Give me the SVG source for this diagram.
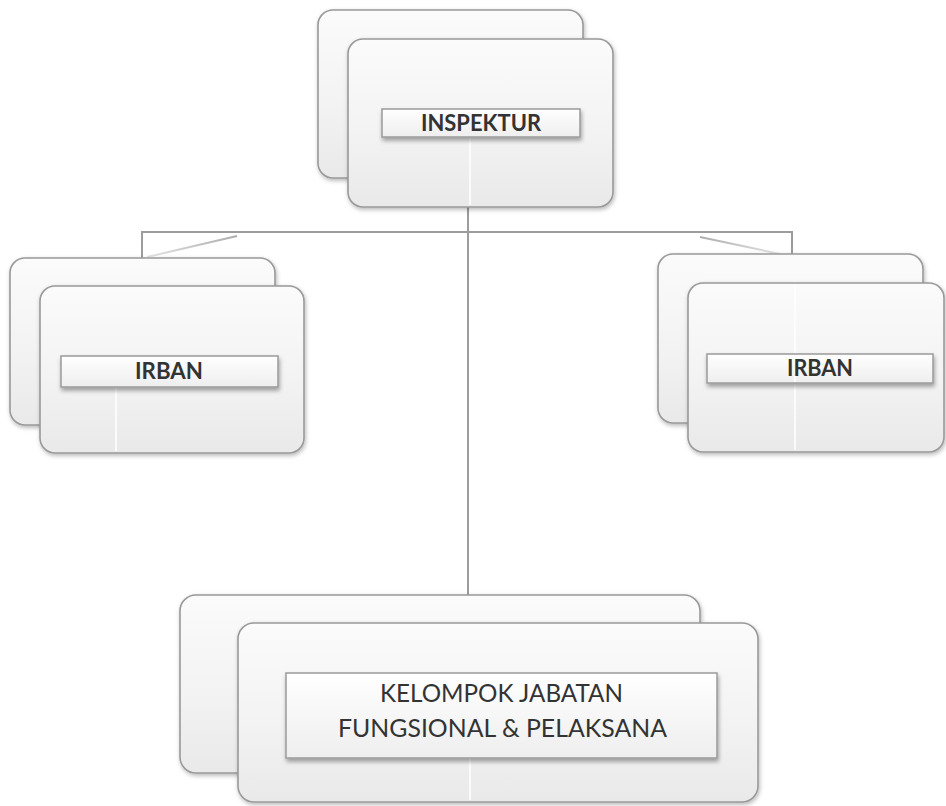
<svg xmlns="http://www.w3.org/2000/svg" width="946" height="806" viewBox="0 0 946 806">
  <defs>
    <linearGradient id="cardFill" x1="0" y1="0" x2="0" y2="1">
      <stop offset="0" stop-color="#fbfbfb"/>
      <stop offset="0.55" stop-color="#f3f3f3"/>
      <stop offset="1" stop-color="#e9e9e9"/>
    </linearGradient>
    <linearGradient id="barFill" x1="0" y1="0" x2="0" y2="1">
      <stop offset="0" stop-color="#ffffff"/>
      <stop offset="1" stop-color="#eeeeee"/>
    </linearGradient>
    <linearGradient id="fadeL" x1="0" y1="0" x2="1" y2="0">
      <stop offset="0" stop-color="#8a8a8a"/>
      <stop offset="1" stop-color="#d8d8d8"/>
    </linearGradient>
    <linearGradient id="fadeR" x1="0" y1="0" x2="1" y2="0">
      <stop offset="0" stop-color="#d8d8d8"/>
      <stop offset="1" stop-color="#8a8a8a"/>
    </linearGradient>
    <filter id="soft" x="-10%" y="-10%" width="125%" height="130%">
      <feDropShadow dx="1" dy="2" stdDeviation="2" flood-color="#000" flood-opacity="0.28"/>
    </filter>
    <filter id="barShadow" x="-5%" y="-20%" width="112%" height="160%">
      <feDropShadow dx="1" dy="3" stdDeviation="2" flood-color="#000" flood-opacity="0.35"/>
    </filter>
  </defs>
  <style>
    .card { fill: url(#cardFill); stroke: #999; stroke-width: 1.6; filter: url(#soft); }
    .bar { fill: url(#barFill); stroke: #9a9a9a; stroke-width: 1.5; filter: url(#barShadow); }
    .line { stroke: #9c9c9c; stroke-width: 2; fill: none; }
    .gleam { stroke: #ffffff; stroke-width: 2; opacity: 0.8; }
    .label { font-family: Lato, "Open Sans", "Liberation Sans", sans-serif; fill: #333; text-anchor: middle; }
    .bold { font-weight: bold; font-size: 22px; }
    .plain { font-size: 25px; }
  </style>

  <rect width="946" height="806" fill="#ffffff"/>

  <!-- connectors -->
  <g id="connectors">
    <polyline class="line" points="142,258 142,232 792,232 792,254"/>
    <line class="line" x1="468" y1="207" x2="468" y2="595"/>
    <line x1="147" y1="257" x2="237" y2="236" stroke="url(#fadeR)" stroke-width="2" opacity="0.7"/>
    <line x1="700" y1="237" x2="780" y2="254" stroke="url(#fadeL)" stroke-width="2" opacity="0.7"/>
  </g>

  <!-- top node -->
  <g id="inspektur">
    <rect class="card" x="318" y="10" width="265" height="168" rx="15"/>
    <rect class="card" x="348" y="39" width="265" height="168" rx="15"/>
    <line class="gleam" x1="470" y1="137" x2="470" y2="205"/>
    <rect class="bar" x="382" y="109" width="198" height="28"/>
    <text class="label bold" x="481" y="131" textLength="120" lengthAdjust="spacingAndGlyphs">INSPEKTUR</text>
  </g>

  <!-- left node -->
  <g id="irban-left">
    <rect class="card" x="10" y="258" width="265" height="167" rx="15"/>
    <rect class="card" x="40" y="286" width="264" height="167" rx="15"/>
    <line class="gleam" x1="116" y1="387" x2="116" y2="451"/>
    <rect class="bar" x="61" y="356" width="217" height="31"/>
    <text class="label bold" x="169" y="379" textLength="68" lengthAdjust="spacingAndGlyphs">IRBAN</text>
  </g>

  <!-- right node -->
  <g id="irban-right">
    <rect class="card" x="658" y="254" width="265" height="169" rx="15"/>
    <rect class="card" x="688" y="283" width="256" height="169" rx="15"/>
    <line class="gleam" x1="795" y1="285" x2="795" y2="450"/>
    <rect class="bar" x="707" y="354" width="226" height="29"/>
    <line class="gleam" x1="795" y1="356" x2="795" y2="382"/>
    <text class="label bold" x="820" y="376" textLength="66" lengthAdjust="spacingAndGlyphs">IRBAN</text>
  </g>

  <!-- bottom node -->
  <g id="kelompok">
    <rect class="card" x="180" y="595" width="520" height="178" rx="16"/>
    <rect class="card" x="238" y="623" width="520" height="179" rx="16"/>
    <line class="gleam" x1="470" y1="758" x2="470" y2="800"/>
    <rect class="bar" x="286" y="673" width="431" height="85"/>
    <text class="label plain" x="501.5" y="702" textLength="243" lengthAdjust="spacingAndGlyphs">KELOMPOK JABATAN</text>
    <text class="label plain" x="502.5" y="737" textLength="329" lengthAdjust="spacingAndGlyphs">FUNGSIONAL &amp; PELAKSANA</text>
  </g>
</svg>
